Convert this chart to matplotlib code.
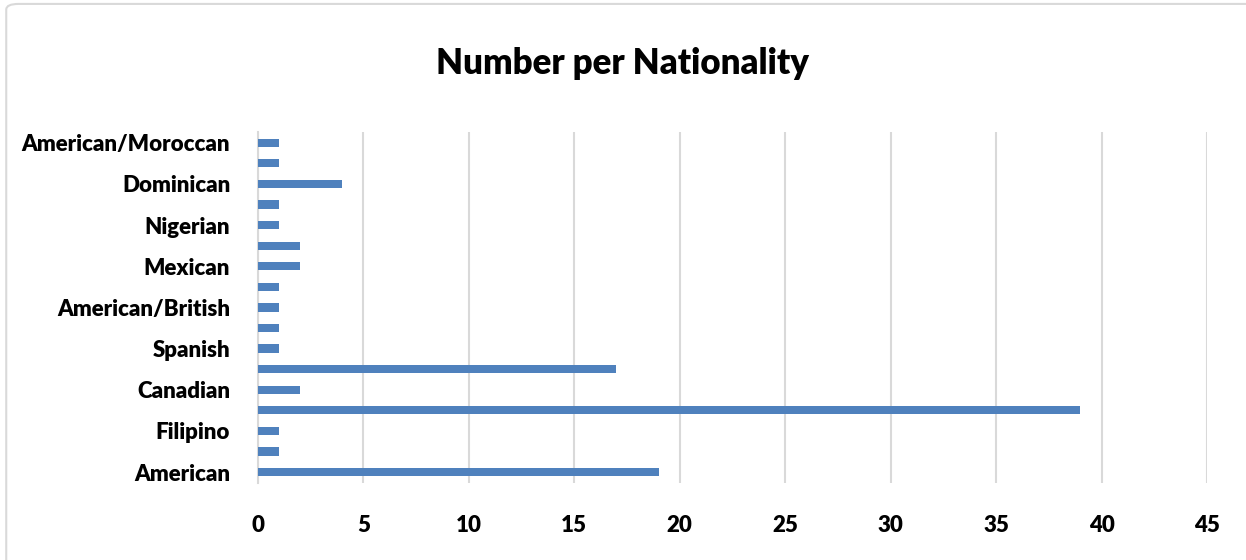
import matplotlib.pyplot as plt
from matplotlib.patches import FancyBboxPatch

# categories bottom to top (Excel only shows every other label)
nationalities = ['American', '', 'Filipino', '', 'Canadian', '', 'Spanish', '',
                 'American/British', '', 'Mexican', '', 'Nigerian', '',
                 'Dominican', '', 'American/Moroccan']
counts = [19, 1, 1, 39, 2, 17, 1, 1, 1, 1, 2, 2, 1, 1, 4, 1, 1]
xticks = [0, 5, 10, 15, 20, 25, 30, 35, 40, 45]

plt.rcParams['font.family'] = ['Lato', 'DejaVu Sans']

fig = plt.figure(figsize=(12.46, 5.6), dpi=100)
ax = fig.add_axes([0.207, 0.1375, 0.7617, 0.627])

pos = list(range(len(counts)))
ax.barh(pos, counts, height=0.4, color='#4F81BD', zorder=3)

ax.set_xlim(0, 45)
ax.set_ylim(-0.53, len(counts) - 0.47)
ax.set_xticks(xticks)
ax.set_xticklabels([str(t) for t in xticks], fontsize=16, fontweight='heavy')
ax.set_yticks(pos)
ax.set_yticklabels(nationalities, fontsize=16, fontweight='heavy')
ax.tick_params(length=0)
ax.tick_params(axis='y', pad=20)
ax.tick_params(axis='x', pad=23)

ax.grid(axis='x', color='#D9D9D9', linewidth=1.5, zorder=0)
for s in ['top', 'right', 'bottom']:
    ax.spines[s].set_visible(False)
ax.spines['left'].set_color('#D9D9D9')
ax.spines['left'].set_linewidth(1.5)

fig.text(0.5, 0.887, 'Number per Nationality', ha='center', va='center',
         fontsize=25, fontweight='heavy')

# light outer frame like the Excel chart area
frame = FancyBboxPatch((0.005, -0.02), 1.2, 1.013, boxstyle='round,pad=0,rounding_size=0.01',
                       transform=fig.transFigure, fill=False, edgecolor='#D9D9D9',
                       linewidth=1.5)
fig.patches.append(frame)

fig.savefig('out.png', dpi=100)
